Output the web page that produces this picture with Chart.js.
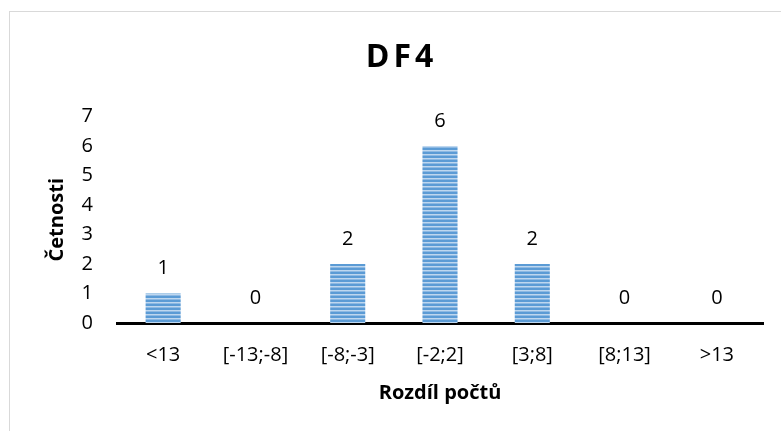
<!DOCTYPE html>
<html>
<head>
<meta charset="utf-8">
<script src="https://cdn.jsdelivr.net/npm/chart.js@4"></script>
<style>
    html, body { margin: 0; padding: 0; background: #fff; }
    #wrap { position: relative; width: 781px; height: 431px; overflow: hidden; }
    #frame { position: absolute; left: 9px; top: 11px; width: 900px; height: 600px; border: 1px solid #d9d9d9; }
    #chart { position: absolute; left: 0; top: 0; }
</style>
</head>
<body>
<div id="wrap">
    <div id="frame"></div>
    <canvas id="chart" width="781" height="431"></canvas>
</div>
<script>
const categories = ['<13', '[-13;-8]', '[-8;-3]', '[-2;2]', '[3;8]', '[8;13]', '>13'];
const counts = [1, 0, 2, 6, 2, 0, 0];
const yTicks = [0, 1, 2, 3, 4, 5, 6, 7];

const chartTitle = 'DF4';
const xTitle = 'Rozdíl počtů';
const yTitle = 'Četnosti';

const FONT = '"Open Sans", "Noto Sans", sans-serif';

// horizontal stripe fill like the Excel pattern
function stripes() {
    const c = document.createElement('canvas');
    c.width = 4;
    c.height = 4;
    const g = c.getContext('2d');
    g.fillStyle = '#bed7ef';
    g.fillRect(0, 0, 4, 4);
    g.fillStyle = '#5b9bd5';
    g.fillRect(0, 0, 4, 2);
    g.fillStyle = '#8db9e3';
    g.fillRect(0, 3, 4, 1);
    return g.createPattern(c, 'repeat');
}

const valueLabels = {
    id: 'valueLabels',
    afterDatasetsDraw(chart) {
        const ctx = chart.ctx;
        const meta = chart.getDatasetMeta(0);
        ctx.save();
        ctx.font = '20px ' + FONT;
        ctx.fillStyle = '#000';
        ctx.textAlign = 'center';
        ctx.textBaseline = 'middle';
        meta.data.forEach((bar, i) => {
            ctx.fillText(String(counts[i]), bar.x, bar.y - 25);
        });
        ctx.restore();
    }
};

// title with wider letter spacing, nudged to sit where the original one does
const spacedTitle = {
    id: 'spacedTitle',
    afterInit(chart) {
        const tb = chart.titleBlock;
        if (!tb) return;
        const orig = tb.draw.bind(tb);
        tb.draw = function () {
            chart.ctx.save();
            chart.ctx.letterSpacing = '4px';
            chart.ctx.translate(20, 0);
            orig();
            chart.ctx.restore();
        };
    }
};

new Chart(document.getElementById('chart'), {
    type: 'bar',
    data: {
        labels: categories,
        datasets: [{
            data: counts,
            backgroundColor: stripes(),
            borderWidth: 0,
            barPercentage: 0.38,
            categoryPercentage: 1
        }]
    },
    options: {
        responsive: false,
        animation: false,
        layout: { padding: { left: 0, right: 18, top: 0, bottom: 0 } },
        plugins: {
            legend: { display: false },
            tooltip: { enabled: false },
            title: {
                display: true,
                text: chartTitle,
                color: '#000',
                font: { family: FONT, size: 32, weight: 'bold' },
                padding: { top: 39, bottom: 39 }
            }
        },
        scales: {
            x: {
                grid: { display: false, drawTicks: false },
                border: { display: true, color: '#000', width: 3 },
                ticks: { color: '#000', font: { family: FONT, size: 20 }, padding: 20, maxRotation: 0 },
                title: {
                    display: true,
                    text: xTitle,
                    color: '#000',
                    font: { family: FONT, size: 20, weight: 'bold' },
                    padding: { top: 0, bottom: 26 }
                },
                afterFit(scale) { scale.height = 108; }
            },
            y: {
                min: 0,
                max: 7,
                grid: { display: false, drawTicks: false },
                border: { display: false },
                afterBuildTicks(scale) { scale.ticks = yTicks.map(v => ({ value: v })); },
                ticks: { color: '#000', font: { family: FONT, size: 20 }, padding: 24 },
                title: {
                    display: true,
                    text: yTitle,
                    color: '#000',
                    font: { family: FONT, size: 20, weight: 'bold' },
                    padding: { top: 45, bottom: 0 }
                },
                afterFit(scale) { scale.width = 117; }
            }
        }
    },
    plugins: [valueLabels, spacedTitle]
});
</script>
</body>
</html>
